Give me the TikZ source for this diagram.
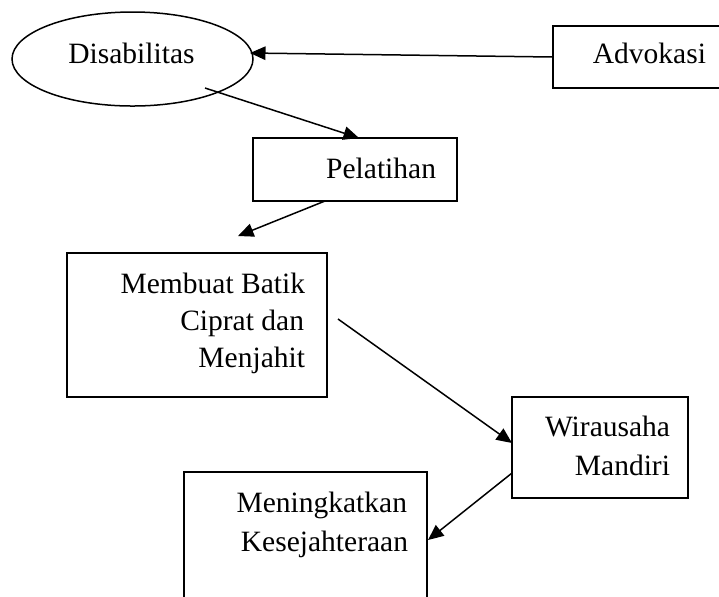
\documentclass[tikz,border=0pt]{standalone}
\usepackage{fontspec}
\setmainfont{Liberation Serif}
\usetikzlibrary{shapes.geometric,arrows.meta,calc}
\begin{document}
\begin{tikzpicture}[x=0.4pt,y=-0.4pt,
  every node/.style={font=\fontsize{11.8}{15.2}\selectfont},
  frame/.style 2 args={draw,line width=0.6pt,rectangle,inner sep=0pt,outer sep=0pt,
    minimum width=#1*0.4pt,minimum height=#2*0.4pt},
  oval/.style 2 args={draw,line width=0.6pt,ellipse,inner sep=0pt,outer sep=0pt,
    minimum width=#1*0.4pt,minimum height=#2*0.4pt},
  txt/.style={inner sep=0pt,outer sep=0pt,anchor=base east},
  link/.style={line width=0.6pt,-{Triangle[length=6.2pt,width=5.4pt]}}]
\useasboundingbox (0,0) rectangle (719,596);
\clip (0,0) rectangle (719,596);
% shapes
\node[oval={241}{94}] (dis) at (132.5,59) {};
\node[frame={174}{62}] (adv) at (640,57) {};
\node[frame={204}{63}] (pel) at (355,169.5) {};
\node[frame={260}{144}] (mem) at (197,325) {};
\node[frame={176}{101}] (wir) at (600,447.5) {};
\node[frame={243}{140}] (men) at (305.5,542) {};
% texts
\node[inner sep=0pt,anchor=base] (tdis) at (131.5,63) {Disabilitas};
\node[txt] (tadv) at (706,63) {Advokasi};
\node[txt] (tpel) at (436,178) {Pelatihan};
\node[txt] (tmem1) at (305,293) {Membuat Batik};
\node[txt] (tmem2) at (304,330) {Ciprat dan};
\node[txt] (tmem3) at (305,367) {Menjahit};
\node[txt] (twir1) at (670,436) {Wirausaha};
\node[txt] (twir2) at (670,475) {Mandiri};
\node[txt] (tmen1) at (407,512) {Meningkatkan};
\node[txt] (tmen2) at (408,551) {Kesejahteraan};
% free ends
\coordinate (disout) at ($(dis.center)+(72.5,29)$);
\coordinate (memin) at ($(mem.north)+(41,-17)$);
\coordinate (memout) at ($(mem.east)+(11,-6)$);
% connectors
\draw[link] (adv.west) -- ($(dis.east)+(-3,-6)$);
\draw[link] (disout) -- ($(pel.north)+(4,0)$);
\draw[link] ($(pel.south)+(-30,0)$) -- (memin);
\draw[link] (memout) -- ($(wir.west)+(0,-4.5)$);
\draw[link] ($(wir.west)+(0,25.5)$) -- ($(men.east)+(1,-2)$);
\end{tikzpicture}
\end{document}
